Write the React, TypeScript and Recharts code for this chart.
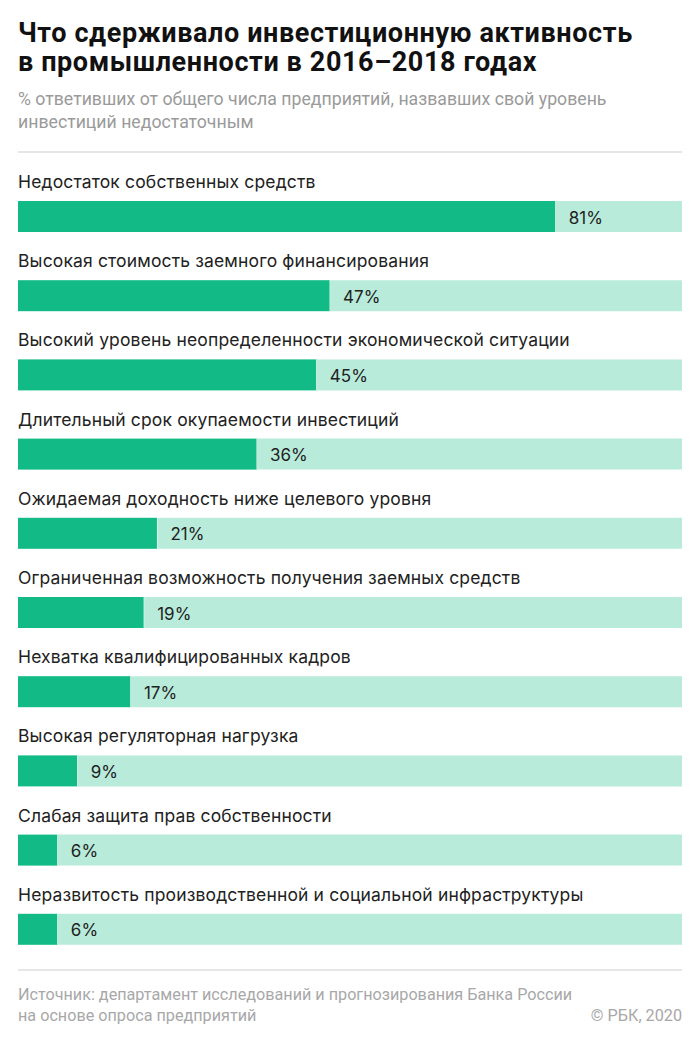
import { BarChart, Bar, XAxis, YAxis, LabelList } from "recharts";

const categories = [
  "Недостаток собственных средств",
  "Высокая стоимость заемного финансирования",
  "Высокий уровень неопределенности экономической ситуации",
  "Длительный срок окупаемости инвестиций",
  "Ожидаемая доходность ниже целевого уровня",
  "Ограниченная возможность получения заемных средств",
  "Нехватка квалифицированных кадров",
  "Высокая регуляторная нагрузка",
  "Слабая защита прав собственности",
  "Неразвитость производственной и социальной инфраструктуры",
];
const values = [81, 47, 45, 36, 21, 19, 17, 9, 6, 6];
const maxValue = 100;

const GREEN = "#12bb86";
const MINT = "#b8ebda";
const FONT = "Roboto, sans-serif";
const LABEL_FONT = "Inter, Roboto, sans-serif";

const rows = categories.map((name, i) => ({
  name,
  value: values[i],
  rest: maxValue - values[i],
}));

const GreenBar = (props: any) => {
  const { x, y, width, height } = props;
  return (
    <g>
      <rect x={x} y={y} width={width} height={height} fill={GREEN} />
      <rect x={x + width - 0.5} y={y} width={2} height={height} fill="#fff" />
    </g>
  );
};

const CategoryLabel = (p: any) => (
  <text
    x={p.x}
    y={p.y - 13}
    fill="#222"
    fontSize={17.5}
    letterSpacing={0.15}
    fontFamily={LABEL_FONT}
  >
    {p.value}
  </text>
);

const ValueLabel = (p: any) => (
  <text
    x={p.x + p.width + 13}
    y={p.y + p.height / 2 + 1}
    fill="#222"
    fontSize={17}
    fontFamily={LABEL_FONT}
    dominantBaseline="central"
  >
    {p.value}%
  </text>
);

const titleLine = {
  position: "absolute" as const,
  left: 18,
  fontSize: 27,
  lineHeight: "27px",
  fontWeight: 700,
  color: "#111",
  letterSpacing: 0.6,
  whiteSpace: "nowrap" as const,
};

export default function App() {
  return (
    <div
      style={{
        position: "absolute",
        left: 0,
        top: 0,
        width: 700,
        height: 1050,
        background: "#fff",
        fontFamily: FONT,
      }}
    >
      <div style={{ ...titleLine, top: 20 }}>Что сдерживало инвестиционную активность</div>
      <div style={{ ...titleLine, top: 49 }}>в промышленности в 2016–2018 годах</div>
      <div
        style={{
          position: "absolute",
          left: 18,
          top: 88,
          fontSize: 17.7,
          lineHeight: "23px",
          color: "#9a9a9a",
          whiteSpace: "nowrap",
        }}
      >
        % ответивших от общего числа предприятий, назвавших свой уровень
        <br />
        инвестиций недостаточным
      </div>
      <div style={{ position: "absolute", left: 18, top: 151, width: 664, height: 2, background: "#e6e6e6" }} />

      <div style={{ position: "absolute", left: 0, top: 0 }}>
        <BarChart
          width={700}
          height={1050}
          data={rows}
          layout="vertical"
          margin={{ top: 177, right: 18, bottom: 81, left: 18 }}
          barSize={31}
        >
          <XAxis type="number" hide domain={[0, maxValue]} />
          <YAxis type="category" dataKey="name" hide />
          <Bar dataKey="value" stackId="s" shape={<GreenBar />} isAnimationActive={false}>
            <LabelList dataKey="name" content={<CategoryLabel />} />
            <LabelList dataKey="value" content={<ValueLabel />} />
          </Bar>
          <Bar dataKey="rest" stackId="s" fill={MINT} isAnimationActive={false} />
        </BarChart>
      </div>

      <div style={{ position: "absolute", left: 18, top: 969, width: 664, height: 2, background: "#e6e6e6" }} />
      <div
        style={{
          position: "absolute",
          left: 18,
          top: 984,
          fontSize: 16.2,
          lineHeight: "21px",
          color: "#a8a8a8",
          whiteSpace: "nowrap",
        }}
      >
        Источник: департамент исследований и прогнозирования Банка России
        <br />
        на основе опроса предприятий
      </div>
      <div
        style={{
          position: "absolute",
          right: 18,
          top: 1005,
          fontSize: 16.2,
          lineHeight: "21px",
          color: "#a8a8a8",
          whiteSpace: "nowrap",
        }}
      >
        © РБК, 2020
      </div>
    </div>
  );
}
